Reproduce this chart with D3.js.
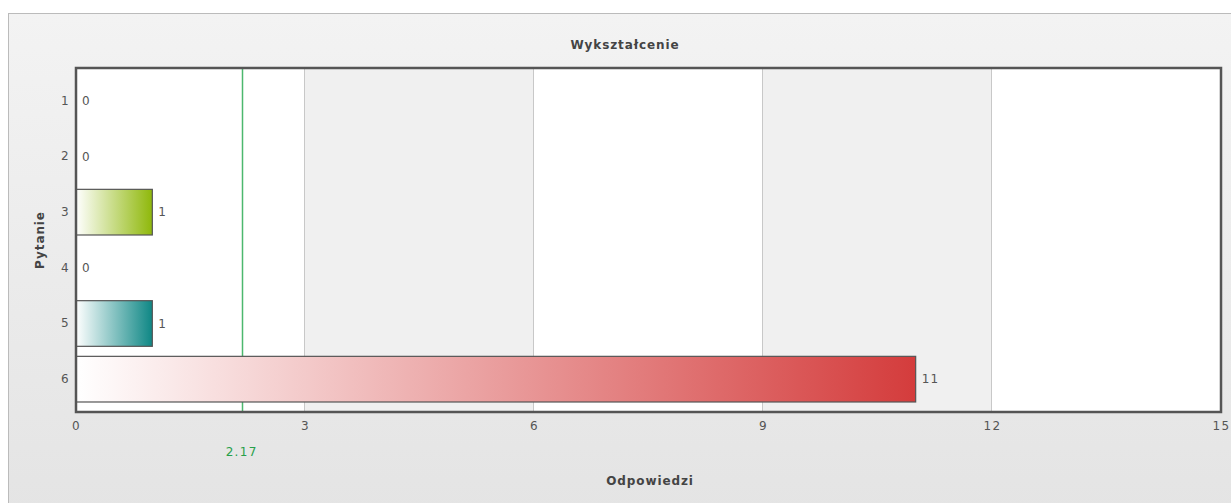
<!DOCTYPE html>
<html><head><meta charset="utf-8">
<script src="https://cdn.jsdelivr.net/npm/d3@7"></script>
<style>body{margin:0;background:#fff;}svg{display:block;font-family:"DejaVu Sans",Verdana,sans-serif;}</style>
</head><body>
<svg id="c" width="1231" height="503"></svg>
<script>
const categories = ["1","2","3","4","5","6"];
const values = [0,0,1,0,1,11];
const barColors = [null,null,"#8fb80a",null,"#0e8785","#d43c3c"];
const xTicks = [0,3,6,9,12,15];
const meanValue = 2.17;
const title = "Wykształcenie";
const xTitle = "Odpowiedzi";
const yTitle = "Pytanie";

const svg = d3.select("#c");
const defs = svg.append("defs");
const bg = defs.append("linearGradient").attr("id","bg").attr("x1",0).attr("y1",0).attr("x2",0).attr("y2",1);
bg.append("stop").attr("offset","0%").attr("stop-color","#f3f3f3");
bg.append("stop").attr("offset","100%").attr("stop-color","#e4e4e4");

svg.append("rect").attr("x",8.5).attr("y",13.5).attr("width",1240).attr("height",500)
  .attr("fill","url(#bg)").attr("stroke","#bbbbbb");

const L=76, R=1221, T=68, B=412;
const x = d3.scaleLinear().domain([0,15]).range([L,R]);
const y = d3.scaleBand().domain(categories).range([T+5,B-5]).paddingInner(0.18).paddingOuter(0.09);

const txt = sel => sel.attr("font-size",12).attr("letter-spacing",1.3).attr("fill","#555").attr("font-family","DejaVu Sans, sans-serif");
const bold = sel => sel.attr("font-size",12).attr("letter-spacing",0.9).attr("font-weight","bold").attr("fill","#444").attr("text-anchor","middle");

// alternating bands
for(let i=0;i<xTicks.length-1;i++){
  svg.append("rect").attr("x",x(xTicks[i])).attr("y",T).attr("width",x(xTicks[i+1])-x(xTicks[i])).attr("height",B-T)
    .attr("fill", i%2===1 ? "#f0f0f0" : "#ffffff");
}
// grid lines
svg.append("g").selectAll("line").data(xTicks.slice(1,-1)).join("line")
  .attr("x1",d=>Math.round(x(d))-0.5).attr("x2",d=>Math.round(x(d))-0.5).attr("y1",T).attr("y2",B)
  .attr("stroke","#c8c8c8").attr("stroke-width",1);

// mean line
svg.append("line").attr("x1",Math.round(x(meanValue))+0.5).attr("x2",Math.round(x(meanValue))+0.5)
  .attr("y1",T).attr("y2",B).attr("stroke","#4cb86e").attr("stroke-width",1.5);

// bar gradients
values.forEach((v,i)=>{
  if(!barColors[i]) return;
  const g = defs.append("linearGradient").attr("id","g"+i).attr("x1",0).attr("y1",0).attr("x2",1).attr("y2",0);
  g.append("stop").attr("offset","0%").attr("stop-color","#ffffff");
  g.append("stop").attr("offset","100%").attr("stop-color",barColors[i]);
});

svg.append("g").selectAll("rect").data(values.map((v,i)=>({v,i}))).join("rect")
  .filter(d=>d.v>0)
  .attr("x",x(0)).attr("y",d=>y(categories[d.i]))
  .attr("width",d=>x(d.v)-x(0)).attr("height",y.bandwidth())
  .attr("fill",d=>"url(#g"+d.i+")").attr("stroke","#555").attr("stroke-width",1.2);

// value labels
svg.append("g").selectAll("text").data(values.map((v,i)=>({v,i}))).join("text")
  .attr("x",d=>x(d.v)+6).attr("y",d=>y(categories[d.i])+y.bandwidth()/2)
  .attr("dy","0.35em").call(txt).text(d=>d.v);

// plot border
svg.append("rect").attr("x",L).attr("y",T).attr("width",R-L).attr("height",B-T)
  .attr("fill","none").attr("stroke","#555").attr("stroke-width",2.5);

// x axis labels
const xa = svg.append("g").attr("transform",`translate(0,${B})`)
  .call(d3.axisBottom(x).tickValues(xTicks).tickSize(0).tickPadding(9).tickFormat(d3.format("d")));
xa.select(".domain").remove();
xa.selectAll("text").call(txt);

// y axis labels
const ya = svg.append("g").attr("transform",`translate(${L},0)`)
  .call(d3.axisLeft(y).tickSize(0).tickPadding(6));
ya.select(".domain").remove();
ya.selectAll("text").call(txt);

// mean label
svg.append("text").attr("x",x(meanValue)).attr("y",456).attr("text-anchor","middle")
  .call(txt).attr("fill","#27a04a").text(meanValue.toFixed(2));

// titles
svg.append("text").attr("x",625).attr("y",49).call(bold).text(title);
svg.append("text").attr("x",650).attr("y",485).call(bold).text(xTitle);
svg.append("text").attr("transform","translate(44,240) rotate(-90)").call(bold).text(yTitle);
</script>
</body></html>
